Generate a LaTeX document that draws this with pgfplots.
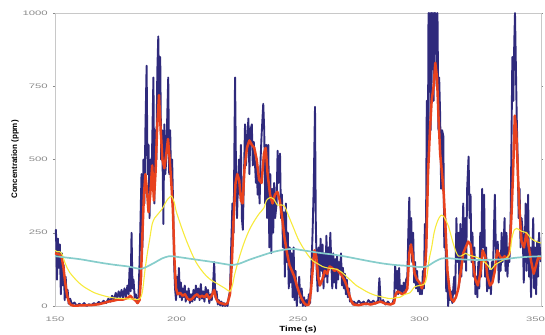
\documentclass[border=0pt]{standalone}
\usepackage{pgfplots}
\pgfplotsset{compat=1.18}
\usepackage{graphicx}
\usepackage{fontspec}
\setmainfont{Liberation Sans}
\definecolor{cblue}{HTML}{2F2A7C}
\definecolor{cred}{HTML}{E8421E}
\definecolor{cyel}{HTML}{F7EA3C}
\definecolor{ccyan}{HTML}{86CDCB}
\definecolor{cframe}{HTML}{C8C8C8}
\definecolor{ctick}{HTML}{8A8A8A}
\begin{document}
\begin{tikzpicture}
\useasboundingbox (-55bp,-29bp) rectangle (490bp,306bp);
\begin{axis}[
  at={(0,0)}, anchor=south west,
  scale only axis, width=486bp, height=293bp,
  xmin=150, xmax=350, ymin=0, ymax=1000,
  xtick={150,200,250,300}, ytick={0,250,500,750,1000},
  extra x ticks={350},
  extra x tick style={xticklabel style={xshift=-5.5bp}},
  axis line style={cframe, line width=0.8pt},
  xtick style={draw=none},
  ytick style={ctick, line width=0.4pt},
  tick align=outside, major tick length=2bp,
  ticklabel style={font=\fontsize{6.5}{7}\selectfont, text=ctick, inner sep=0pt},
  /pgf/number format/assume math mode=true,
  /pgf/number format/1000 sep={},
  xticklabel={\scalebox{1.75}[1]{\pgfmathprintnumber{\tick}}},
  yticklabel={\scalebox{1.75}[1]{\pgfmathprintnumber{\tick}}},
  yticklabel style={anchor=east, xshift=-5bp},
  xticklabel style={anchor=center, yshift=-11bp},
  xlabel={\scalebox{1.3}[1]{\textbf{Time (s)}}},
  ylabel={\textbf{Concentration (ppm)}},
  xlabel style={font=\fontsize{7.5}{8}\selectfont, at={(axis description cs:0.5,-0.0819)}, anchor=center, inner sep=0pt},
  ylabel style={font=\fontsize{8}{9}\selectfont, at={(axis description cs:-0.0823,0.5)}, anchor=center, inner sep=0pt},
  clip=true,
]
\addplot[cblue, line width=1.9pt, line join=round] coordinates {
(150.0,240)(150.4,260)(150.8,90)(151.2,230)(151.6,130)(152.0,210)(152.4,40)(152.8,180)(153.2,70)(153.6,140)
(154.0,20)(154.4,100)(154.8,30)(155.2,55)(155.6,8)(156.2,25)(157.0,5)(158.0,12)(159.0,0)(160.0,8)
(161.0,2)(162.0,10)(163.0,0)(164.0,6)(165.0,3)(166.0,10)(167.0,5)(168.0,14)(169.0,8)(170.0,18)
(171.0,10)(172.0,25)(172.8,15)(173.5,35)(174.2,20)(175.0,45)(175.6,25)(176.2,50)(176.8,30)(177.4,55)
(178.0,25)(178.6,60)(179.2,30)(179.8,70)(180.3,40)(180.7,130)(181.1,50)(181.5,250)(181.9,60)(182.3,90)
(182.8,30)(183.3,40)(183.8,10)(184.3,20)(184.8,150)(185.2,300)(185.6,450)(186.0,200)(186.4,500)(186.8,350)
(187.2,600)(187.7,820)(188.1,450)(188.5,550)(188.9,300)(189.3,500)(189.7,420)(190.1,600)(190.5,780)(190.9,350)
(191.3,600)(191.7,500)(192.1,800)(192.5,920)(192.9,700)(193.3,850)(193.7,500)(194.1,600)(194.6,280)(195.0,620)
(195.4,450)(195.8,500)(196.2,650)(196.6,780)(197.0,450)(197.4,600)(197.8,420)(198.2,500)(198.6,350)(199.0,150)
(199.4,60)(199.8,20)(200.2,100)(200.6,40)(201.0,130)(201.4,30)(201.8,80)(202.2,20)(202.6,60)(203.0,30)
(203.4,70)(203.8,15)(204.2,50)(204.6,25)(205.0,60)(205.5,10)(206.0,40)(206.5,15)(207.0,55)(207.5,20)
(208.0,70)(208.5,30)(209.0,60)(209.5,20)(210.0,75)(210.5,25)(211.0,50)(211.5,15)(212.0,65)(212.5,30)
(213.0,55)(213.5,10)(214.0,40)(214.5,20)(215.0,60)(215.5,150)(216.0,30)(216.5,50)(217.0,5)(217.5,20)
(218.0,2)(218.5,15)(219.0,0)(219.5,10)(220.0,0)(220.5,8)(221.0,0)(221.5,30)(222.0,50)(222.5,200)
(223.0,350)(223.5,250)(224.1,780)(224.5,450)(224.9,300)(225.3,420)(225.7,500)(226.1,380)(226.5,550)(226.9,300)
(227.3,260)(227.7,420)(228.2,620)(228.6,480)(229.0,560)(229.6,640)(230.0,450)(230.4,600)(231.0,620)(231.4,480)
(231.8,560)(232.2,500)(232.7,420)(233.0,480)(233.4,380)(233.8,450)(234.2,350)(234.6,500)(235.0,580)(235.7,690)
(236.1,600)(236.5,350)(236.9,550)(237.3,300)(237.8,550)(238.2,200)(238.6,450)(239.0,180)(239.4,400)(239.8,250)
(240.2,420)(240.6,300)(241.2,350)(241.6,530)(242.0,420)(242.6,520)(243.0,300)(243.4,380)(243.8,200)(244.2,320)
(244.6,100)(245.0,350)(245.4,150)(245.8,250)(246.2,60)(246.6,200)(247.0,80)(247.4,180)(247.8,30)(248.2,200)
(248.6,20)(249.0,120)(249.5,0)(250.0,60)(250.5,100)(251.0,10)(251.5,60)(252.0,0)(252.5,30)(253.0,0)
(253.5,20)(254.0,5)(254.5,40)(255.0,10)(255.5,120)(256.0,250)(256.5,420)(257.0,680)(257.3,300)(257.7,120)
(258.1,50)(258.5,200)(258.9,100)(259.3,230)(259.7,120)(260.1,210)(260.5,60)(260.9,180)(261.3,100)(261.7,240)
(262.1,80)(262.5,200)(262.9,130)(263.3,250)(263.7,150)(264.1,60)(264.5,180)(264.9,80)(265.3,160)(265.7,60)
(266.1,170)(266.5,90)(266.9,150)(267.3,120)(267.7,180)(268.1,70)(268.5,130)(268.9,60)(269.3,110)(269.7,40)
(270.1,90)(270.5,30)(271.0,60)(271.4,15)(272.0,20)(272.5,5)(273.0,15)(274.0,5)(275.0,18)(276.0,8)
(277.0,15)(278.0,5)(279.0,20)(280.0,10)(281.0,18)(282.0,8)(283.0,20)(283.5,95)(284.0,15)(285.0,20)
(286.0,5)(287.0,15)(288.0,5)(289.0,10)(289.6,30)(290.0,140)(290.4,60)(290.8,120)(291.2,40)(291.6,130)
(292.0,50)(292.5,70)(293.0,40)(293.5,80)(294.0,50)(294.5,90)(295.0,100)(295.4,250)(295.8,370)(296.2,200)
(296.6,300)(297.0,150)(297.4,250)(297.8,80)(298.2,150)(298.6,60)(299.0,120)(299.4,50)(299.8,80)(300.2,40)
(300.6,70)(301.0,40)(301.4,120)(301.8,60)(302.2,280)(302.6,150)(303.0,700)(303.4,400)(303.7,1000)(304.0,800)
(304.3,1000)(304.6,600)(304.9,1000)(305.2,850)(305.5,1000)(305.8,700)(306.1,1000)(306.4,900)(306.7,1000)(307.0,750)
(307.4,1000)(307.8,600)(308.1,780)(308.5,650)(308.9,400)(309.3,600)(309.8,580)(310.2,200)(310.6,300)(311.0,50)
(311.4,100)(311.8,0)(312.2,60)(312.6,20)(313.0,50)(313.5,10)(313.9,60)(314.3,100)(314.7,40)(315.2,300)
(315.6,150)(316.0,250)(316.4,80)(316.8,280)(317.2,100)(317.6,200)(318.0,350)(318.4,150)(318.8,300)(319.2,120)
(319.6,400)(320.2,510)(320.6,300)(321.0,380)(321.4,150)(321.8,250)(322.2,100)(322.6,200)(323.0,40)(323.4,100)
(323.8,30)(324.2,150)(324.6,60)(325.0,250)(325.4,100)(325.8,400)(326.2,200)(326.6,380)(327.0,100)(327.4,200)
(327.8,50)(328.2,150)(328.6,60)(329.0,120)(329.4,40)(329.8,150)(330.2,100)(330.6,250)(331.0,380)(331.4,200)
(331.8,150)(332.2,220)(332.6,80)(333.0,180)(333.4,120)(333.8,250)(334.2,150)(334.6,200)(335.0,300)(335.4,120)
(335.8,250)(336.2,100)(336.6,200)(337.0,150)(337.5,300)(337.9,600)(338.2,850)(338.6,700)(339.0,900)(339.3,1000)
(339.7,800)(340.0,650)(340.4,500)(340.8,300)(341.2,400)(341.6,200)(342.0,300)(342.5,250)(342.9,80)(343.3,200)
(343.7,350)(344.1,120)(344.7,380)(345.1,100)(345.5,200)(345.9,30)(346.3,150)(346.8,300)(347.2,60)(347.6,200)
(348.0,40)(348.4,220)(348.8,100)(349.2,250)(349.7,170)(350.0,150)
};
\addplot[cred, line width=2.5pt, line join=round] coordinates {
(150,180)(151,178)(152,175)(152.8,165)(153.5,130)(154.2,80)(155,35)(155.8,12)(156.5,4)(158,0)(160,2)(165,3)
(168,6)(170,10)(172,15)(174,18)(176,22)(178,22)(180,28)(181,35)(182,25)(183,20)(184,10)(184.8,20)(185.4,100)
(186,250)(186.6,380)(187.2,450)(187.8,400)(188.5,320)(189.2,380)(190,480)(190.7,360)(191.4,460)(192,600)
(192.8,720)(193.5,600)(194.2,500)(195,470)(195.8,520)(196.5,570)(197.2,500)(197.8,430)(198.5,330)(199.2,150)
(199.8,60)(200.5,40)(201.5,45)(202.5,35)(203.5,40)(204.5,25)(205.5,20)(206.5,25)(207.5,35)(208.5,40)(209.5,30)
(210.5,35)(211.5,30)(212.5,40)(213.5,25)(214.5,35)(215.5,55)(216.3,25)(217,15)(218,10)(219,8)(220,5)(221,10)
(222,40)(222.8,150)(223.5,300)(224.3,420)(225,450)(225.8,430)(226.5,360)(227.2,350)(228,470)(229,540)(230,565)
(231,550)(232,540)(233,500)(234,430)(235,420)(236,520)(236.7,540)(237.5,450)(238.5,380)(239.5,350)(240.5,380)
(241.5,390)(242.5,360)(243.5,300)(244.5,230)(245.5,180)(246.5,140)(247.5,120)(248.5,100)(249.5,70)(250.5,45)
(251.5,25)(252.5,10)(253.5,3)(254.5,5)(255.3,50)(256,120)(256.8,190)(257.5,170)(258.3,100)(259,70)(260,90)
(261,120)(262,110)(263,135)(264,130)(265,120)(266,125)(267,115)(268,105)(269,90)(270,70)(271,40)(272,15)
(273,5)(275,3)(278,8)(280,5)(282,10)(284,15)(286,8)(288,5)(289.5,10)(290.2,40)(291,50)(292,45)(293,40)(294,45)
(295,60)(295.8,180)(296.5,210)(297.2,170)(298,110)(299,90)(300,80)(301,60)(302,90)(302.8,200)(303.5,450)
(304.3,600)(305,700)(305.8,750)(306.5,830)(307.2,780)(307.8,650)(308.5,520)(309.3,450)(310,380)(310.8,250)
(311.5,120)(312.3,60)(313,25)(314,15)(315,30)(316,60)(317,120)(318,180)(319,200)(320,220)(321,210)(322,150)
(323,90)(324,70)(325,110)(326,190)(327,170)(328,100)(329,70)(330,80)(331,120)(332,190)(333,170)(334,160)
(335,170)(336,160)(337,180)(337.8,300)(338.5,450)(339.2,650)(339.8,600)(340.5,450)(341.2,320)(342,220)
(343,200)(344,250)(345,200)(346,150)(347,110)(348,140)(349,170)(350,160)
};
\addplot[cyel, line width=1.1pt, smooth] coordinates {
(150,190)(151,185)(152,185)(153,175)(154,150)(155,130)(156,115)(158,95)(160,78)(162,65)(164,55)(166,46)
(168,40)(170,35)(172,31)(174,28)(176,26)(178,25)(180,24)(182,24)(184,22)(185,25)(186,50)(187,120)(188,180)
(189,230)(190,280)(191,300)(192,310)(193,320)(194,330)(195,345)(196,360)(197,370)(198,375)(199,355)(200,320)
(202,270)(204,225)(206,185)(208,150)(210,125)(212,105)(214,90)(216,80)(218,70)(220,60)(222,50)(223,70)
(224,110)(226,170)(228,220)(230,260)(232,290)(234,315)(236,335)(237,360)(238.5,370)(240,365)(241.5,345)
(243,345)(244.5,340)(246,310)(248,270)(250,230)(252,200)(254,175)(256,155)(258,145)(260,135)(262,130)
(264,128)(266,125)(268,115)(270,100)(272,85)(274,70)(276,60)(278,50)(280,42)(282,36)(284,32)(286,28)
(288,25)(290,28)(292,30)(294,40)(296,45)(298,65)(300,70)(302,75)(303,100)(304,160)(305,200)(306,250)
(307,280)(308,300)(309,310)(310,305)(311,290)(312,270)(313,240)(314,210)(315,185)(316,170)(317,170)
(318,175)(319,180)(320,175)(322,170)(324,165)(326,155)(328,140)(329.5,125)(331,140)(333,150)(335,160)
(337,175)(338,230)(339,260)(340,265)(342,255)(344,250)(346,230)(348,220)(350,215)
};
\addplot[ccyan, line width=1.7pt, smooth] coordinates {
(150,170)(155,165)(160,160)(165,153)(170,146)(175,140)(180,135)(184,128)(186,128)(188,135)(191,148)(194,162)
(197,170)(200,168)(205,162)(210,156)(215,150)(220,143)(223,140)(226,145)(230,158)(235,172)(240,185)(245,193)
(248,195)(252,190)(256,185)(260,180)(265,175)(270,168)(275,160)(280,152)(285,145)(290,140)(295,137)(300,133)
(303,135)(306,150)(309,162)(312,163)(316,160)(320,158)(325,157)(330,158)(335,160)(340,165)(345,168)(350,170)
};
\end{axis}
\end{tikzpicture}
\end{document}
